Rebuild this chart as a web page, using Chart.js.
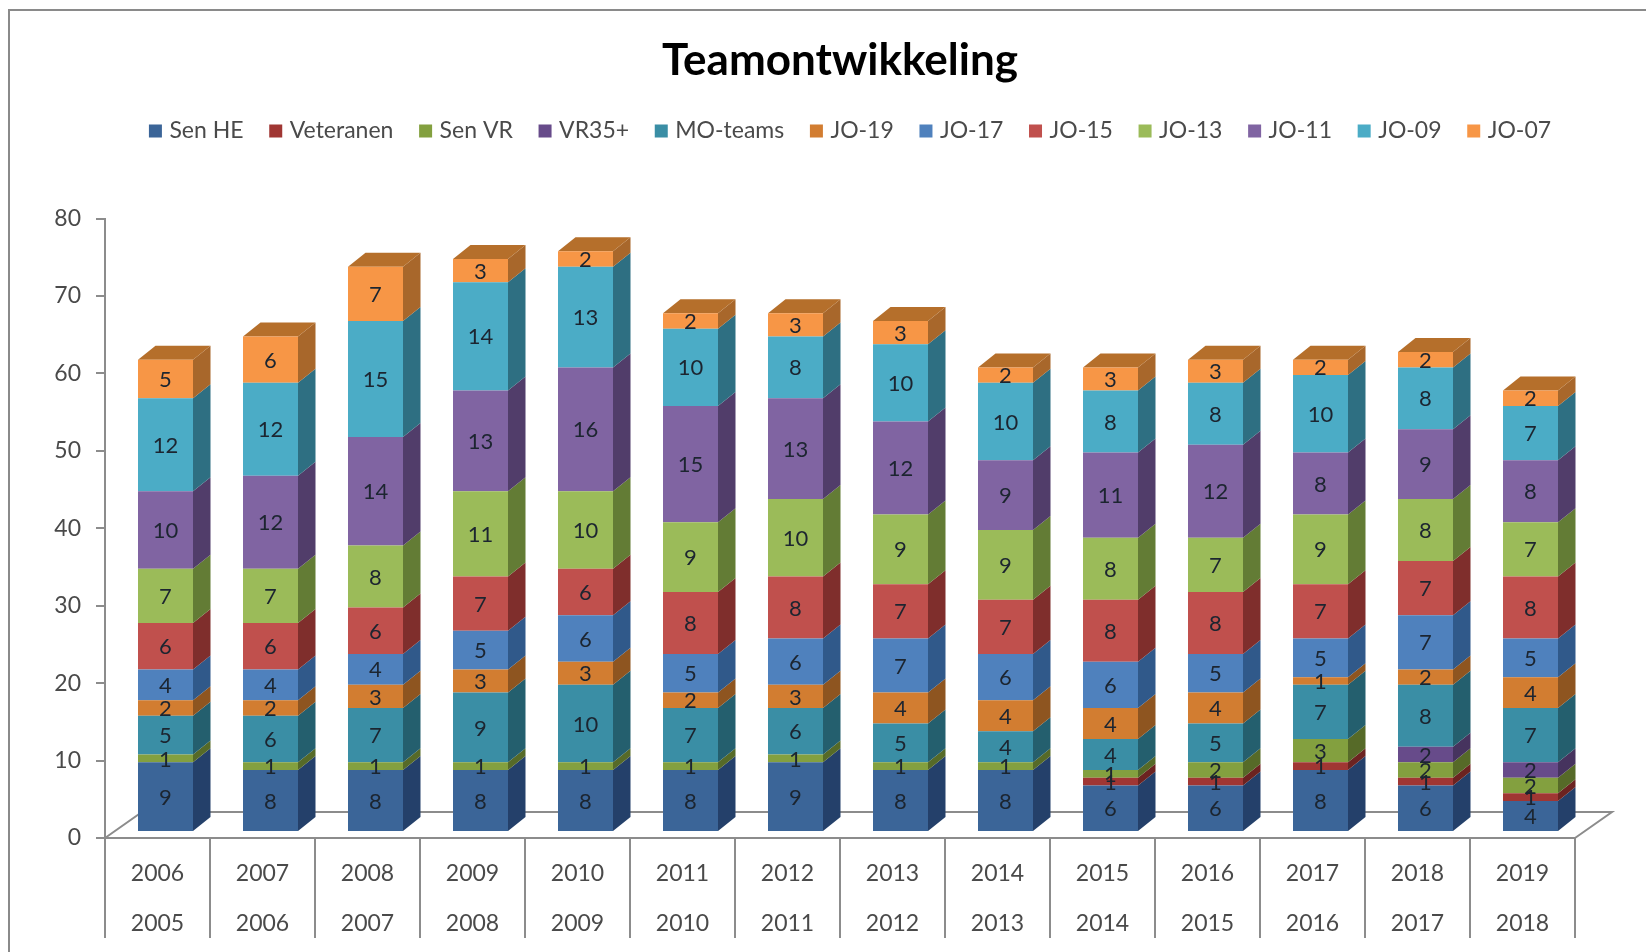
<!DOCTYPE html>
<html>
<head>
<meta charset="utf-8">
<title>Teamontwikkeling</title>
<script src="https://cdn.jsdelivr.net/npm/chart.js@4/dist/chart.umd.min.js"></script>
<style>
  html, body { margin: 0; padding: 0; background: #fff; }
  canvas { display: block; }
</style>
</head>
<body>
<canvas id="teamChart" width="1646" height="952"></canvas>
<script>
const seasonEnd = ['2006', '2007', '2008', '2009', '2010', '2011', '2012', '2013', '2014', '2015', '2016', '2017', '2018', '2019'];
const seasonStart = ['2005', '2006', '2007', '2008', '2009', '2010', '2011', '2012', '2013', '2014', '2015', '2016', '2017', '2018'];

const senHE = [9, 8, 8, 8, 8, 8, 9, 8, 8, 6, 6, 8, 6, 4];
const veteranen = [0, 0, 0, 0, 0, 0, 0, 0, 0, 1, 1, 1, 1, 1];
const senVR = [1, 1, 1, 1, 1, 1, 1, 1, 1, 1, 2, 3, 2, 2];
const vr35 = [0, 0, 0, 0, 0, 0, 0, 0, 0, 0, 0, 0, 2, 2];
const moTeams = [5, 6, 7, 9, 10, 7, 6, 5, 4, 4, 5, 7, 8, 7];
const jo19 = [2, 2, 3, 3, 3, 2, 3, 4, 4, 4, 4, 1, 2, 4];
const jo17 = [4, 4, 4, 5, 6, 5, 6, 7, 6, 6, 5, 5, 7, 5];
const jo15 = [6, 6, 6, 7, 6, 8, 8, 7, 7, 8, 8, 7, 7, 8];
const jo13 = [7, 7, 8, 11, 10, 9, 10, 9, 9, 8, 7, 9, 8, 7];
const jo11 = [10, 12, 14, 13, 16, 15, 13, 12, 9, 11, 12, 8, 9, 8];
const jo09 = [12, 12, 15, 14, 13, 10, 8, 10, 10, 8, 8, 10, 8, 7];
const jo07 = [5, 6, 7, 3, 2, 2, 3, 3, 2, 3, 3, 2, 2, 2];

const seriesNames = ['Sen HE', 'Veteranen', 'Sen VR', 'VR35+', 'MO-teams', 'JO-19', 'JO-17', 'JO-15', 'JO-13', 'JO-11', 'JO-09', 'JO-07'];
const seriesValues = [senHE, veteranen, senVR, vr35, moTeams, jo19, jo17, jo15, jo13, jo11, jo09, jo07];
const frontColors = ['#3b6598', '#a03633', '#83a03f', '#674b8a', '#3a8ea5', '#d27d31', '#4f81bd', '#c0504d', '#9bbb59', '#8064a2', '#4bacc6', '#f79646'];
const sideColors = ['#24406a', '#6c2321', '#566a28', '#46335e', '#245f6e', '#8e5520', '#30598a', '#7f2e2c', '#637c35', '#513d6a', '#2e6f82', '#a8672b'];
const topColor = '#b56f2b';

const FONT = 'Lato, "Open Sans", sans-serif';
const AXIS_COLOR = '#8c8c8c';
const TEXT_COLOR = '#4a4a4a';

// the bars stand a bit behind the axis plane, like Excel's 3D columns
const BAR_SHIFT_X = 8;
const BAR_SHIFT_Y = -6;
const DEPTH_X = 17.5;
const DEPTH_Y = 14;
const FLOOR_X = 37;
const FLOOR_Y = 26;
const LEGEND_SHIFT_X = 12;

function polygon(ctx, points, color) {
  ctx.fillStyle = color;
  ctx.beginPath();
  points.forEach((p, i) => (i ? ctx.lineTo(p[0], p[1]) : ctx.moveTo(p[0], p[1])));
  ctx.closePath();
  ctx.fill();
}

const frame3d = {
  id: 'frame3d',
  afterLayout(chart) {
    // legend is not centred on the same line as the title
    chart.legend.left += LEGEND_SHIFT_X;
    chart.legend.right += LEGEND_SHIFT_X;
  },
  beforeDraw(chart) {
    const { ctx } = chart;
    ctx.save();
    ctx.strokeStyle = '#8a8a8a';
    ctx.lineWidth = 2;
    ctx.beginPath();
    ctx.moveTo(9, chart.height);
    ctx.lineTo(9, 10);
    ctx.lineTo(chart.width, 10);
    ctx.stroke();
    ctx.restore();
  },
  beforeDatasetsDraw(chart) {
    const { ctx, chartArea: area } = chart;

    // floor
    ctx.save();
    ctx.strokeStyle = AXIS_COLOR;
    ctx.lineWidth = 2;
    ctx.beginPath();
    ctx.moveTo(area.left, area.bottom);
    ctx.lineTo(area.left + FLOOR_X, area.bottom - FLOOR_Y);
    ctx.lineTo(area.right + FLOOR_X, area.bottom - FLOOR_Y);
    ctx.lineTo(area.right, area.bottom);
    ctx.stroke();

    // side and top faces, the front faces are the chart's own bars
    ctx.translate(BAR_SHIFT_X, BAR_SHIFT_Y);
    seasonEnd.forEach((_, index) => {
      let lastSeries = -1;
      seriesValues.forEach((values, s) => {
        if (values[index] > 0) lastSeries = s;
      });
      seriesValues.forEach((values, s) => {
        if (!values[index]) return;
        const bar = chart.getDatasetMeta(s).data[index];
        const right = bar.x + bar.width / 2;
        const left = bar.x - bar.width / 2;
        polygon(ctx, [
          [right, bar.y],
          [right + DEPTH_X, bar.y - DEPTH_Y],
          [right + DEPTH_X, bar.base - DEPTH_Y],
          [right, bar.base]
        ], sideColors[s]);
        if (s === lastSeries) {
          polygon(ctx, [
            [left, bar.y],
            [left + DEPTH_X, bar.y - DEPTH_Y],
            [right + DEPTH_X, bar.y - DEPTH_Y],
            [right, bar.y]
          ], topColor);
        }
      });
    });
  },
  afterDatasetsDraw(chart) {
    const { ctx } = chart;
    // value labels, still in the shifted bar plane
    ctx.font = '22px ' + FONT;
    ctx.fillStyle = '#1c2530';
    ctx.textAlign = 'center';
    ctx.textBaseline = 'middle';
    seriesValues.forEach((values, s) => {
      chart.getDatasetMeta(s).data.forEach((bar, index) => {
        if (values[index]) ctx.fillText(values[index], bar.x, (bar.y + bar.base) / 2 + 1);
      });
    });
    ctx.restore();
  }
};

// hidden axes only reserve room, so the plot sits where it does in the picture
const spacerAxis = {
  display: true,
  grid: { display: false },
  border: { display: false },
  ticks: { display: false }
};

new Chart(document.getElementById('teamChart'), {
  type: 'bar',
  plugins: [frame3d],
  data: {
    labels: seasonEnd.map((end, i) => [end, seasonStart[i]]),
    datasets: seriesNames.map((name, s) => ({
      label: name,
      data: seriesValues[s],
      backgroundColor: frontColors[s],
      borderWidth: 0,
      barPercentage: 55 / 105,
      categoryPercentage: 1
    }))
  },
  options: {
    responsive: false,
    animation: false,
    layout: { padding: { left: 34, right: 0, top: 0, bottom: 0 } },
    plugins: {
      tooltip: { enabled: false },
      title: {
        display: true,
        text: 'Teamontwikkeling',
        color: '#000',
        font: { family: FONT, size: 44, weight: 'bold' },
        padding: { top: 34, bottom: 3 }
      },
      legend: {
        display: true,
        position: 'top',
        labels: {
          color: TEXT_COLOR,
          font: { family: FONT, size: 23 },
          boxWidth: 5,
          boxHeight: 5,
          padding: 29.7,
          // a thick border on a small box keeps the text close to the marker
          generateLabels(chart) {
            return Chart.defaults.plugins.legend.labels.generateLabels(chart).map((item, i) => {
              item.strokeStyle = frontColors[i];
              item.lineWidth = 8;
              return item;
            });
          }
        }
      }
    },
    scales: {
      x: {
        stacked: true,
        afterFit(axis) { axis.height = 114; },
        border: { color: AXIS_COLOR, width: 2 },
        grid: { drawOnChartArea: false, color: AXIS_COLOR, lineWidth: 2, tickLength: 100 },
        ticks: {
          color: TEXT_COLOR,
          font: { family: FONT, size: 23, lineHeight: 50 / 23 },
          padding: -89,
          maxRotation: 0,
          autoSkip: false
        }
      },
      y: {
        stacked: true,
        min: 0,
        max: 80,
        afterFit(axis) { axis.width = 71; },
        border: { color: AXIS_COLOR, width: 2 },
        grid: { drawOnChartArea: false, color: AXIS_COLOR, lineWidth: 2, tickLength: 9 },
        ticks: {
          stepSize: 10,
          color: TEXT_COLOR,
          font: { family: FONT, size: 23 },
          padding: 15
        }
      },
      xTop: {
        ...spacerAxis,
        type: 'category',
        position: 'top',
        afterFit(axis) { axis.height = 66; }
      },
      yRight: {
        ...spacerAxis,
        position: 'right',
        afterFit(axis) { axis.width = 71; }
      }
    }
  }
});
</script>
</body>
</html>
